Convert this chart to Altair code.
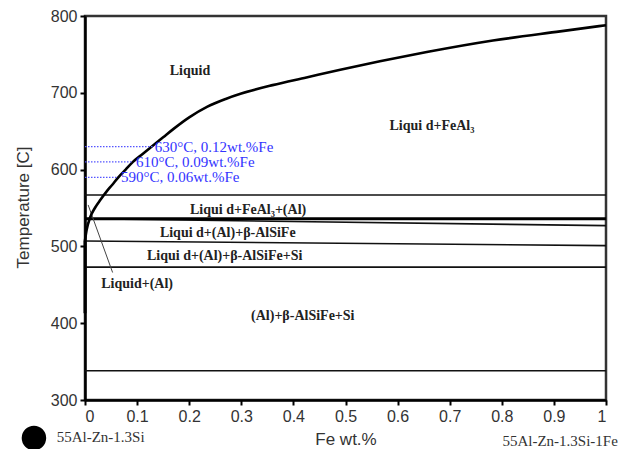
import altair as alt
import pandas as pd

# ---- data ----
# liquidus curve (Fe wt.%, temperature); vertical part along x = 0
vert_x = [0]
vert_t1 = [413]
vert_t2 = [508]
curve_x = [0, 0.003, 0.01, 0.019, 0.03, 0.042, 0.052, 0.064, 0.078, 0.092, 0.11, 0.13,
           0.15, 0.17, 0.2, 0.235, 0.27, 0.3, 0.36, 0.425, 0.49, 0.566, 0.656, 0.783, 0.912, 1.0]
curve_t = [508, 521, 538, 550, 561, 572, 580, 590, 600, 610, 620, 631,
           642, 653, 668, 682, 692, 699, 710, 720, 730, 741, 753, 768, 780, 788]

# phase boundary lines
seg_x1 = [0, 0, 0, 0, 0, 0]
seg_x2 = [1, 1, 1, 1, 1, 1]
seg_t1 = [567, 536, 536, 507, 473, 338]
seg_t2 = [567, 536, 527, 501, 473, 338]
seg_kind = ["thin", "thick", "thin", "thin", "thin", "thin"]

# leader line for "Liquid+(Al)"
lead_x1 = [0.006]
lead_x2 = [0.053]
lead_t1 = [554]
lead_t2 = [466]

# region labels
lab_text = ["Liquid", "Liqui d+FeAl\u2083", "Liqui d+FeAl\u2083+(Al)", "Liqui d+(Al)+\u03b2-AlSiFe",
            "Liqui d+(Al)+\u03b2-AlSiFe+Si", "Liquid+(Al)", "(Al)+\u03b2-AlSiFe+Si"]
lab_x = [0.2015, 0.666, 0.313, 0.274, 0.268, 0.10, 0.418]
lab_t = [728, 657, 547, 517, 487, 451, 409]

# blue composition markers
blue_t = [630, 610, 590]
blue_x_start = [0, 0, 0]
blue_x_end = [0.13, 0.092, 0.062]
blue_label_x = [0.134, 0.098, 0.069]
blue_text = ["630\u00b0C, 0.12wt.%Fe", "610\u00b0C, 0.09wt.%Fe", "590\u00b0C, 0.06wt.%Fe"]

# alloy labels below the axis
alloy_text = ["55Al-Zn-1.3Si", "55Al-Zn-1.3Si-1Fe"]
alloy_x = [0.03, 0.912]
alloy_t = [252, 247]

logo_x = [-0.098]
logo_t = [250.5]

x_ticks = [0, 0.1, 0.2, 0.3, 0.4, 0.5, 0.6, 0.7, 0.8, 0.9, 1.0]
y_ticks = [300, 400, 500, 600, 700, 800]

# ---- chart ----
xs = alt.Scale(domain=[0, 1], nice=False, zero=False)
ys = alt.Scale(domain=[300, 800], nice=False, zero=False)

vert_df = pd.DataFrame({"x": vert_x, "t": vert_t1, "t2": vert_t2})
curve_df = pd.DataFrame({"x": curve_x, "t": curve_t})
seg_df = pd.DataFrame({"x": seg_x1, "x2": seg_x2, "t": seg_t1, "t2": seg_t2, "kind": seg_kind})
lead_df = pd.DataFrame({"x": lead_x1, "x2": lead_x2, "t": lead_t1, "t2": lead_t2})
lab_df = pd.DataFrame({"text": lab_text, "x": lab_x, "t": lab_t})
blue_df = pd.DataFrame({"t": blue_t, "x": blue_x_start, "xe": blue_x_end, "xl": blue_label_x, "text": blue_text})
alloy_df = pd.DataFrame({"text": alloy_text, "x": alloy_x, "t": alloy_t})
logo_df = pd.DataFrame({"x": logo_x, "t": logo_t})

X = alt.X("x:Q", scale=xs,
          axis=alt.Axis(values=x_ticks, format="~g", title="Fe wt.%",
                        titleX=260.5, titleY=39, titleBaseline="middle", titleAlign="center"))
Y = alt.Y("t:Q", scale=ys,
          axis=alt.Axis(values=y_ticks, title="Temperature [C]",
                        titleX=-62, titleY=191, titleBaseline="middle", titleAlign="center",
                        titleAngle=270))

thin = alt.Chart(seg_df).mark_rule(color="#111", strokeWidth=1.6).encode(
    x=X, x2="x2:Q", y=Y, y2="t2:Q"
).transform_filter(alt.datum.kind == "thin")

thick = alt.Chart(seg_df).mark_rule(color="black", strokeWidth=3).encode(
    x="x:Q", x2="x2:Q", y="t:Q", y2="t2:Q"
).transform_filter(alt.datum.kind == "thick")

lead = alt.Chart(lead_df).mark_rule(color="#444", strokeWidth=1).encode(
    x="x:Q", x2="x2:Q", y="t:Q", y2="t2:Q"
)

vert = alt.Chart(vert_df).mark_rule(color="black", strokeWidth=3).encode(
    x="x:Q", y="t:Q", y2="t2:Q"
)

curve = alt.Chart(curve_df).mark_line(color="black", strokeWidth=2.6, interpolate="monotone").encode(
    x="x:Q", y="t:Q", order="x:Q"
)

blue_lines = alt.Chart(blue_df).mark_rule(color="#5555ff", strokeWidth=1.2, strokeDash=[1.5, 1.5]).encode(
    x="x:Q", x2="xe:Q", y="t:Q"
)

blue_labels = alt.Chart(blue_df).mark_text(
    align="left", baseline="middle", font="Liberation Serif", fontSize=15, color="#3333ff"
).encode(x="xl:Q", y="t:Q", text="text:N")

labels = alt.Chart(lab_df).mark_text(
    align="center", baseline="middle", font="Liberation Serif", fontSize=14,
    fontWeight="bold", color="#222"
).encode(x="x:Q", y="t:Q", text="text:N")

alloys = alt.Chart(alloy_df).mark_text(
    align="center", baseline="middle", font="Liberation Serif", fontSize=15,
    color="#333", clip=False
).encode(x="x:Q", y="t:Q", text="text:N")

logo = alt.Chart(logo_df).mark_point(
    shape="circle", filled=True, color="black", size=600, opacity=1, clip=False
).encode(x="x:Q", y="t:Q")

chart = alt.layer(thin, thick, lead, vert, curve, blue_lines, blue_labels, labels, alloys, logo).properties(
    width=521, height=384,
    padding={"left": 77, "top": 8, "right": 13, "bottom": 49},
    autosize=alt.AutoSizeParams(type="none"),
).configure_view(
    stroke="#333", strokeWidth=2.5
).configure_axis(
    grid=False, domainColor="black", domainWidth=2.5, tickColor="black", tickWidth=2,
    tickSize=5, labelFont="Liberation Sans", labelFontSize=16, labelColor="#333",
    labelPadding=3, titleFont="Liberation Sans", titleFontSize=17, titleColor="#333",
    titleFontWeight="normal"
)

chart.save("out.html", embed_options={"renderer": "svg", "actions": False})
